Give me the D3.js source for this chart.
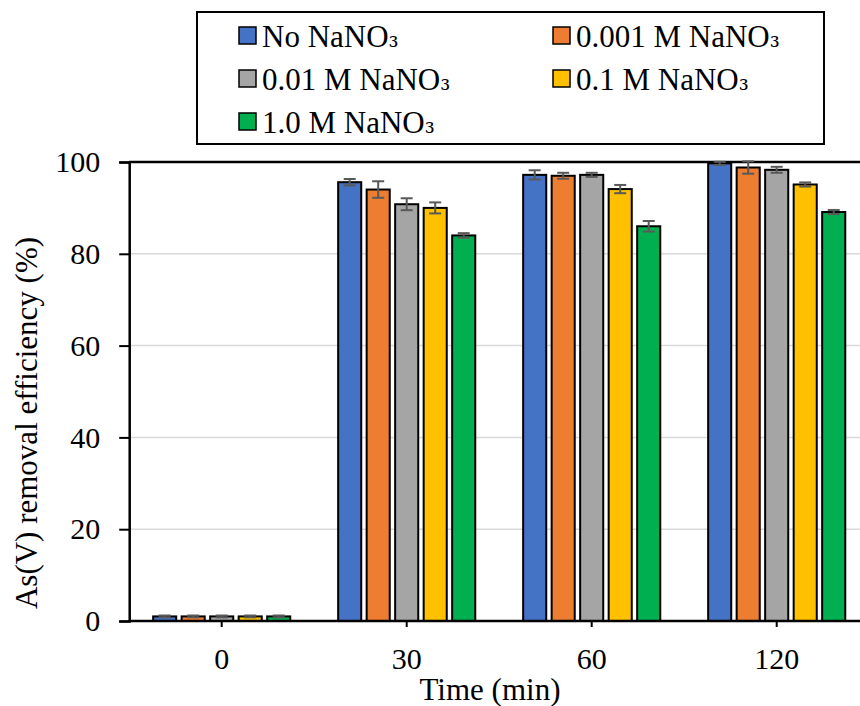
<!DOCTYPE html>
<html>
<head>
<meta charset="utf-8">
<script src="https://cdn.jsdelivr.net/npm/d3@7"></script>
<style>
  html, body { margin: 0; padding: 0; background: #fff; }
  svg { display: block; }
</style>
</head>
<body>
<svg id="chart" width="860" height="706"></svg>
<script>
const categories = ["0", "30", "60", "120"];
const seriesNames = ["No NaNO₃", "0.001 M NaNO₃", "0.01 M NaNO₃", "0.1 M NaNO₃", "1.0 M NaNO₃"];
const seriesColors = ["#4472C4", "#ED7D31", "#A5A5A5", "#FFC000", "#00B050"];
// values per series, in category order
const noNaNO3    = [1.0, 95.6, 97.2, 99.7];
const m0001      = [1.0, 94.0, 97.0, 98.8];
const m001       = [1.0, 90.8, 97.2, 98.3];
const m01        = [1.0, 90.0, 94.1, 95.1];
const m1         = [1.0, 84.0, 86.0, 89.1];
// error (±)
const errNo      = [0.2, 0.7, 1.0, 0.35];
const err0001    = [0.2, 1.8, 0.65, 1.35];
const err001     = [0.2, 1.3, 0.45, 0.65];
const err01      = [0.2, 1.2, 0.9, 0.45];
const err1       = [0.2, 0.5, 1.15, 0.45];
const yTicks = [0, 20, 40, 60, 80, 100];
const xTitle = "Time (min)";
const yTitle = "As(V) removal efficiency (%)";

const values = [noNaNO3, m0001, m001, m01, m1];
const errors = [errNo, err0001, err001, err01, err1];

const FONT = "'Liberation Serif', 'Times New Roman', serif";
const svg = d3.select("#chart");
const pLeft = 129.2, pRight = 860, pTop = 162, pBottom = 621;

const x0 = d3.scaleBand().domain(categories).range([pLeft, pLeft + 185 * 4]).padding(0);
const x1 = d3.scaleBand().domain(seriesNames).range([0, x0.bandwidth()])
  .paddingInner(0.19).paddingOuter(0.84);
const y = d3.scaleLinear().domain([0, 100]).range([pBottom, pTop]);

// gridlines
svg.append("g").selectAll("line").data(yTicks.filter(t => t > 0 && t < 100)).join("line")
  .attr("x1", pLeft).attr("x2", pRight)
  .attr("y1", d => y(d)).attr("y2", d => y(d))
  .attr("stroke", "#d9d9d9").attr("stroke-width", 1.5);

// top border
svg.append("line").attr("x1", pLeft).attr("x2", pRight)
  .attr("y1", y(100)).attr("y2", y(100))
  .attr("stroke", "#000").attr("stroke-width", 2.5);

// bars
const data = [];
categories.forEach((c, ci) => {
  seriesNames.forEach((s, si) => {
    data.push({ c, s, si, v: values[si][ci], e: errors[si][ci] });
  });
});

svg.append("g").selectAll("rect").data(data).join("rect")
  .attr("x", d => x0(d.c) + x1(d.s))
  .attr("y", d => y(d.v))
  .attr("width", x1.bandwidth())
  .attr("height", d => y(0) - y(d.v))
  .attr("fill", d => seriesColors[d.si])
  .attr("stroke", "#000").attr("stroke-width", 2);

// error bars
const eb = svg.append("g").attr("stroke", "#595959").attr("stroke-width", 2);
data.forEach(d => {
  const cx = x0(d.c) + x1(d.s) + x1.bandwidth() / 2;
  const y1 = y(d.v + d.e), y2 = y(d.v - d.e);
  eb.append("line").attr("x1", cx).attr("x2", cx).attr("y1", y1).attr("y2", y2);
  eb.append("line").attr("x1", cx - 6).attr("x2", cx + 6).attr("y1", y1).attr("y2", y1);
  eb.append("line").attr("x1", cx - 6).attr("x2", cx + 6).attr("y1", y2).attr("y2", y2);
});

// y axis
const yAxis = svg.append("g").attr("transform", `translate(${pLeft},0)`)
  .call(d3.axisLeft(y).tickValues(yTicks).tickSize(10).tickPadding(19));
yAxis.select(".domain").attr("stroke", "#000").attr("stroke-width", 2.5);
yAxis.selectAll(".tick line").attr("stroke", "#000").attr("stroke-width", 2);
yAxis.selectAll(".tick text").style("font-size", "30px")
  .style("font-family", FONT).attr("fill", "#000");

// x axis
const xAxis = svg.append("g").attr("transform", `translate(0,${pBottom})`)
  .call(d3.axisBottom(x0).tickSize(6).tickPadding(21));
xAxis.select(".domain").attr("stroke", "#000").attr("stroke-width", 2.5)
  .attr("d", `M${pLeft},0H${pRight}`);
xAxis.selectAll(".tick line").attr("stroke", "#000").attr("stroke-width", 2);
xAxis.selectAll(".tick text").style("font-size", "30px")
  .style("font-family", FONT).attr("fill", "#000");

// titles
svg.append("text").attr("x", 490).attr("y", 700).attr("text-anchor", "middle")
  .style("font-family", FONT).style("font-size", "31px").attr("fill", "#000").text(xTitle);
svg.append("text").attr("transform", "translate(37,423) rotate(-90)")
  .attr("text-anchor", "middle").style("font-family", FONT).style("font-size", "31px")
  .attr("fill", "#000").text(yTitle);

// legend
svg.append("rect").attr("x", 197).attr("y", 12).attr("width", 627).attr("height", 132)
  .attr("fill", "#fff").attr("stroke", "#000").attr("stroke-width", 2);
const colX = [239, 553];
const rowY = [27, 70, 113];
seriesNames.forEach((s, i) => {
  const cx = colX[i % 2], ry = rowY[Math.floor(i / 2)];
  svg.append("rect").attr("x", cx).attr("y", ry).attr("width", 17).attr("height", 17)
    .attr("fill", seriesColors[i]).attr("stroke", "#000").attr("stroke-width", 1.5);
  const t = svg.append("text").attr("x", cx + 23).attr("y", ry + 20)
    .style("font-family", FONT).style("font-size", "31px").attr("fill", "#000");
  const base = s.slice(0, -1), sub = s.slice(-1);
  t.append("tspan").text(base);
  t.append("tspan").style("font-family", "'DejaVu Serif', serif").style("font-size", "25px").text(sub);
});
</script>
</body>
</html>
